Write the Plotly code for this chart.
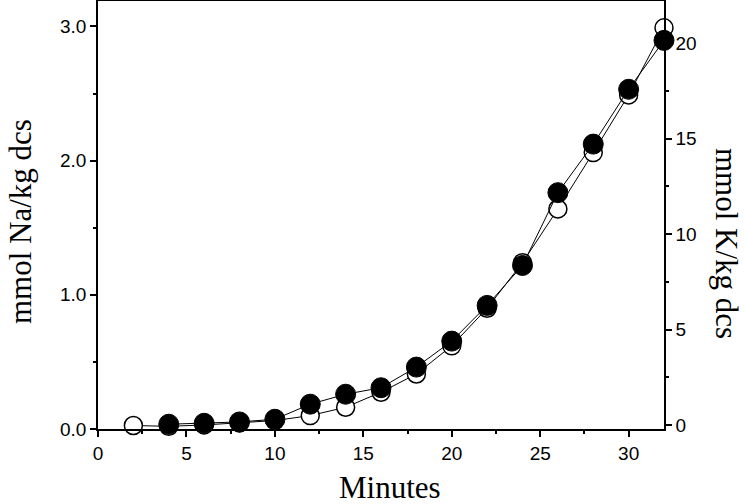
import plotly.graph_objects as go

minutes_na = [2, 4, 6, 8, 10, 12, 14, 16, 18, 20, 22, 24, 26, 28, 30, 32]
na_values = [0.026, 0.02, 0.03, 0.045, 0.063, 0.10, 0.162, 0.274, 0.41, 0.62, 0.90, 1.24, 1.64, 2.06, 2.49, 2.99]

minutes_k = [4, 6, 8, 10, 12, 14, 16, 18, 20, 22, 24, 26, 28, 30, 32]
k_values = [0.05, 0.1, 0.17, 0.31, 1.10, 1.62, 1.96, 3.04, 4.40, 6.27, 8.36, 12.17, 14.71, 17.58, 20.14]

x_title = "Minutes"
y_left_title = "mmol Na/kg dcs"
y_right_title = "mmol K/kg dcs"

tick_font = dict(family="Liberation Sans, Arial, sans-serif", size=19, color="black")
title_font = dict(family="Liberation Serif, Times New Roman, serif", size=31, color="black")

fig = go.Figure()
fig.add_trace(go.Scatter(
    x=minutes_na, y=na_values, mode="lines+markers", name="Na",
    line=dict(color="black", width=1),
    marker=dict(symbol="circle", size=18, color="white", line=dict(color="black", width=1.5)),
    cliponaxis=False, yaxis="y"))
fig.add_trace(go.Scatter(
    x=minutes_k, y=k_values, mode="lines+markers", name="K",
    line=dict(color="black", width=1),
    marker=dict(symbol="circle", size=20, color="black", line=dict(color="black", width=1)),
    cliponaxis=False, yaxis="y2"))

axis_common = dict(showgrid=False, zeroline=False, showline=True, linecolor="black", linewidth=1.5,
                   ticks="outside", ticklen=6, tickwidth=1.5, tickcolor="black", tickfont=tick_font)

plot_l, plot_r, plot_t, plot_b = 98, 664, 1, 429
W, H = 747, 504

fig.update_layout(
    width=W, height=H,
    margin=dict(l=plot_l, r=W - plot_r, t=plot_t, b=H - plot_b, autoexpand=False),
    paper_bgcolor="white", plot_bgcolor="white",
    showlegend=False,
    xaxis=dict(range=[0, 32], dtick=5, tick0=0, mirror=True,
               minor=dict(dtick=2.5, ticks="outside", ticklen=3, tickwidth=1.5, tickcolor="black"),
               **axis_common),
    yaxis=dict(range=[0, 3.19], dtick=1, tick0=0, tickformat=".1f",
               minor=dict(dtick=0.5, ticks="outside", ticklen=3, tickwidth=1.5, tickcolor="black"),
               **axis_common),
    yaxis2=dict(range=[-0.2, 22.2], dtick=5, tick0=0, overlaying="y", side="right",
                minor=dict(dtick=2.5, ticks="outside", ticklen=3, tickwidth=1.5, tickcolor="black"),
                **axis_common),
)

pw, ph = plot_r - plot_l, plot_b - plot_t


def px_to_paper(px, py):
    return (px - plot_l) / pw, (plot_b - py) / ph


title_specs = [
    (x_title, 390, 487, 0),
    (y_left_title, 20, 222, -90),
    (y_right_title, 727, 243, 90),
]
for text, px, py, angle in title_specs:
    ax, ay = px_to_paper(px, py)
    fig.add_annotation(text=text, x=ax, y=ay, xref="paper", yref="paper", showarrow=False,
                       textangle=angle, font=title_font, xanchor="center", yanchor="middle")

fig.write_html("out.html", config={"displayModeBar": False},
               post_script="document.body.style.margin='0';document.body.style.overflow='hidden';")
